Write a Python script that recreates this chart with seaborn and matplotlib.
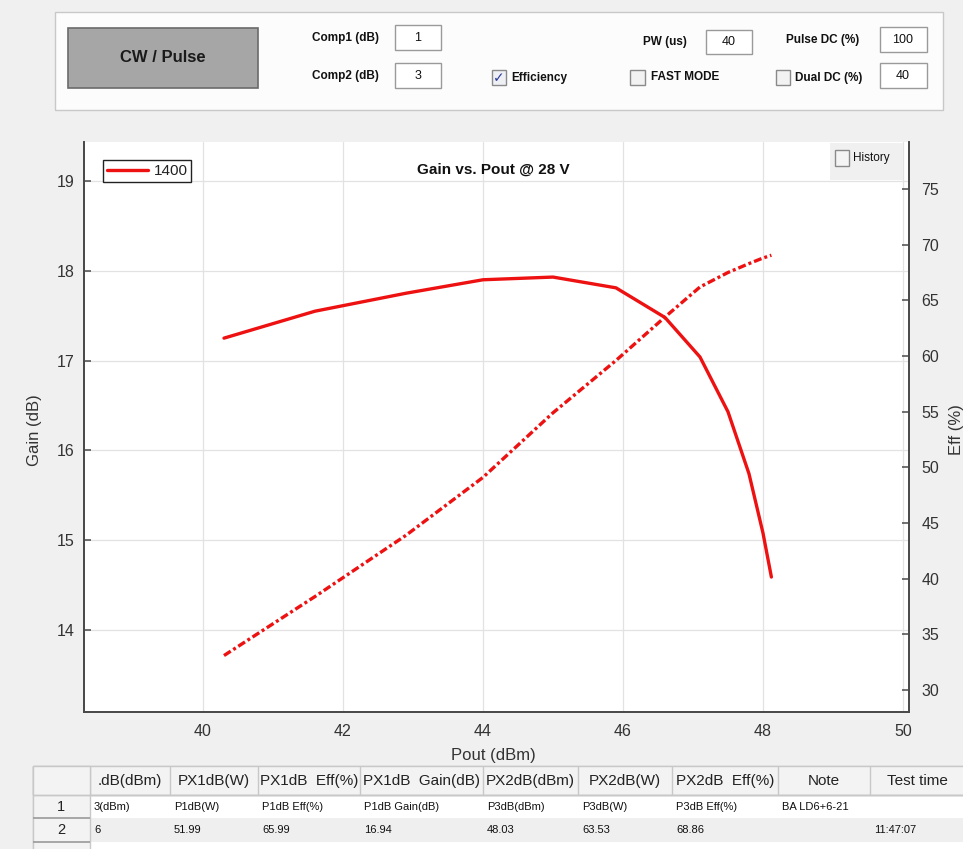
import matplotlib
matplotlib.use("Agg")
import matplotlib.pyplot as plt
from matplotlib.patches import Rectangle
import seaborn as sns
import pandas as pd

# ---------------- data ----------------
pout = [40.3, 41.6, 42.9, 44.0, 45.0, 45.9, 46.6, 47.1, 47.5, 47.8, 48.0, 48.12]
gain = [17.25, 17.55, 17.75, 17.90, 17.93, 17.81, 17.48, 17.04, 16.43, 15.74, 15.08, 14.59]
eff = [33.1, 38.4, 43.9, 49.1, 54.9, 59.6, 63.5, 66.2, 67.5, 68.3, 68.8, 69.05]
series_label = "1400"

x_ticks = [40, 42, 44, 46, 48, 50]
gain_ticks = [14, 15, 16, 17, 18, 19]
eff_ticks = [30, 35, 40, 45, 50, 55, 60, 65, 70, 75]

table_header = [".dB(dBm)", "PX1dB(W)", "PX1dB  Eff(%)", "PX1dB  Gain(dB)",
                "PX2dB(dBm)", "PX2dB(W)", "PX2dB  Eff(%)", "Note", "Test time"]
table_row1 = ["3(dBm)", "P1dB(W)", "P1dB Eff(%)", "P1dB Gain(dB)", "P3dB(dBm)",
              "P3dB(W)", "P3dB Eff(%)", "BA LD6+6-21", ""]
table_row2 = ["6", "51.99", "65.99", "16.94", "48.03", "63.53", "68.86", "", "11:47:07"]
row_labels = ["1", "2"]

df = pd.DataFrame({"Pout": pout, "Gain": gain, "Eff": eff})

# ---------------- figure ----------------
sns.set_style("white")
plt.rcParams["font.family"] = ["Liberation Sans", "DejaVu Sans"]

W, H = 963, 849
fig = plt.figure(figsize=(W / 100, H / 100), dpi=100, facecolor="#f0f0f0")

def fx(x):
    return x / W

def fy(y):
    return 1 - y / H

def rect(x0, y0, x1, y1, fc="white", ec="#a0a0a0", lw=1.0, z=1):
    fig.patches.append(Rectangle((fx(x0), fy(y1)), (x1 - x0) / W, (y1 - y0) / H,
                                 transform=fig.transFigure, facecolor=fc,
                                 edgecolor=ec, linewidth=lw, zorder=z))

def txt(x, y, s, **kw):
    kw.setdefault("va", "center")
    fig.text(fx(x), fy(y), s, **kw)

# ---------------- top control panel ----------------
rect(55, 12, 943, 110, fc="#fcfcfc", ec="#c8c8c8", lw=1.0)
rect(68, 28, 258, 88, fc="#a6a6a6", ec="#6a6a6a", lw=1.2, z=2)
txt(163, 58, "CW / Pulse", ha="center", fontsize=12, fontweight="bold", color="#1a1a1a")

lab_kw = dict(fontsize=8.5, fontweight="bold", color="#111111")
box_kw = dict(fc="white", ec="#9a9a9a", lw=1.0, z=2)
txt(345, 38, "Comp1 (dB)", ha="center", **lab_kw)
rect(395, 25, 441, 50, **box_kw)
txt(418, 38, "1", ha="center", fontsize=9, color="#111111")
txt(345, 76, "Comp2 (dB)", ha="center", **lab_kw)
rect(395, 63, 441, 88, **box_kw)
txt(418, 76, "3", ha="center", fontsize=9, color="#111111")

txt(665, 42, "PW (us)", ha="center", **lab_kw)
rect(706, 30, 752, 54, **box_kw)
txt(729, 42, "40", ha="center", fontsize=9, color="#111111")
txt(823, 40, "Pulse DC (%)", ha="center", **lab_kw)
rect(880, 27, 927, 52, **box_kw)
txt(903, 40, "100", ha="center", fontsize=9, color="#111111")
rect(880, 63, 927, 88, **box_kw)
txt(903, 76, "40", ha="center", fontsize=9, color="#111111")

# checkboxes
rect(492, 70, 506, 85, fc="#eef0f6", ec="#8a8a8a", lw=1.0, z=2)
txt(499, 78, "\u2713", ha="center", fontsize=10, color="#2a3a9a", family=["DejaVu Sans"])
txt(511, 78, "Efficiency", ha="left", **lab_kw)
rect(630, 70, 645, 85, fc="#f2f2f2", ec="#8a8a8a", lw=1.0, z=2)
txt(651, 77, "FAST MODE", ha="left", **lab_kw)
rect(776, 70, 790, 85, fc="#f2f2f2", ec="#8a8a8a", lw=1.0, z=2)
txt(795, 78, "Dual DC (%)", ha="left", **lab_kw)

# ---------------- main axes ----------------
ax_left, ax_right, ax_top, ax_bottom = 84, 909, 142, 712
ax = fig.add_axes([fx(ax_left), fy(ax_bottom), (ax_right - ax_left) / W,
                   (ax_bottom - ax_top) / H])
ax.set_facecolor("white")
ax2 = ax.twinx()

red = "#ee1111"
sns.lineplot(data=df, x="Pout", y="Gain", ax=ax, color=red, linewidth=2.4,
             sort=False, label=series_label)
sns.lineplot(data=df, x="Pout", y="Eff", ax=ax2, color=red, linewidth=2.4,
             sort=False, legend=False)
ax2.lines[0].set_linestyle((0, (2.4, 0.9, 0.9, 0.9)))

ax.set_xlim(38.3, 50.086)
ax.set_ylim(13.087, 19.434)
ax2.set_ylim(28.03, 79.22)
ax.set_xticks(x_ticks)
ax.set_yticks(gain_ticks)
ax2.set_yticks(eff_ticks)

ax.grid(True, color="#e2e2e2", linewidth=0.9)
ax.set_axisbelow(True)

spine_c = "#4a4a4a"
for a in (ax, ax2):
    a.spines["top"].set_visible(False)
    for s in ("left", "right", "bottom"):
        a.spines[s].set_color(spine_c)
        a.spines[s].set_linewidth(1.3)
ax.tick_params(axis="both", direction="in", length=5, width=1.1, color=spine_c,
               labelsize=11.5, labelcolor="#333333")
ax.tick_params(axis="x", pad=9)
ax.tick_params(axis="y", pad=7)
ax2.tick_params(axis="y", direction="in", length=5, width=1.1, color=spine_c,
                labelsize=11.5, labelcolor="#333333", pad=9)

ax.set_xlabel("Pout (dBm)", fontsize=12, color="#333333")
ax.set_ylabel("Gain (dB)", fontsize=12, color="#333333")
ax2.set_ylabel("Eff (%)", fontsize=12, color="#333333")
ax.xaxis.set_label_coords(0.496, -0.063)
ax.yaxis.set_label_coords(-0.051, 0.495)
ax2.yaxis.set_label_coords(1.049, 0.495)

ax.text(0.496, 0.951, "Gain vs. Pout @ 28 V", transform=ax.transAxes, ha="center",
        va="center", fontsize=11, fontweight="bold", color="#111111")

leg = ax.legend(loc="upper left", bbox_to_anchor=(0.023, 0.968), borderaxespad=0,
                fontsize=11, handlelength=2.7, handletextpad=0.35, borderpad=0.25,
                fancybox=False, framealpha=1, edgecolor="#222222")
leg.get_frame().set_linewidth(1.0)
for t in leg.get_texts():
    t.set_color("#222222")

# History box
rect(830, 143, 903, 180, fc="#f0f0f0", ec="none", lw=0, z=5)
rect(835, 150, 849, 166, fc="#f4f4f4", ec="#8a8a8a", lw=1.0, z=6)
txt(853, 158, "History", ha="left", fontsize=8.5, color="#111111", zorder=6)

# ---------------- bottom table ----------------
col_edges = [33, 90, 170, 258, 360, 483, 578, 672, 778, 870, 980]
hdr_top, hdr_bot = 766, 795
r1_bot, r2_bot, r3_bot = 818, 842, 870
grid_c = "#c8c8c8"
rect(33, hdr_top, 980, r3_bot, fc="#ffffff", ec=grid_c, lw=1.0, z=1)
rect(33, hdr_top, 980, hdr_bot, fc="#f3f3f3", ec=grid_c, lw=1.0, z=2)
rect(90, r1_bot, 980, r2_bot, fc="#efefef", ec="none", lw=0, z=2)
for xe in col_edges:
    rect(xe, hdr_top, xe, hdr_bot, fc="none", ec=grid_c, lw=1.0, z=3)
rect(33, hdr_top, 90, r3_bot, fc="#f3f3f3", ec=grid_c, lw=1.0, z=3)
rect(33, r1_bot, 90, r1_bot, fc="none", ec="#9a9a9a", lw=1.2, z=4)
rect(33, r2_bot, 90, r2_bot, fc="none", ec="#9a9a9a", lw=1.2, z=4)
rect(33, hdr_bot, 980, hdr_bot, fc="none", ec=grid_c, lw=1.0, z=4)

for i, h in enumerate(table_header):
    cx = (col_edges[i + 1] + col_edges[i + 2]) / 2
    if i == len(table_header) - 1:
        cx = 917
    txt(cx, 781, h, ha="center", fontsize=11, color="#222222", zorder=5)
for i, s in enumerate(table_row1):
    txt(col_edges[i + 1] + 4, 807, s, ha="left", fontsize=8, color="#111111", zorder=5)
for i, s in enumerate(table_row2):
    txt(col_edges[i + 1] + 4, 830, s, ha="left", fontsize=8, color="#111111", zorder=5)
txt(61, 807, row_labels[0], ha="center", fontsize=10.5, color="#222222", zorder=5)
txt(61, 830, row_labels[1], ha="center", fontsize=10.5, color="#222222", zorder=5)

fig.savefig("out.png", dpi=100, facecolor=fig.get_facecolor())
